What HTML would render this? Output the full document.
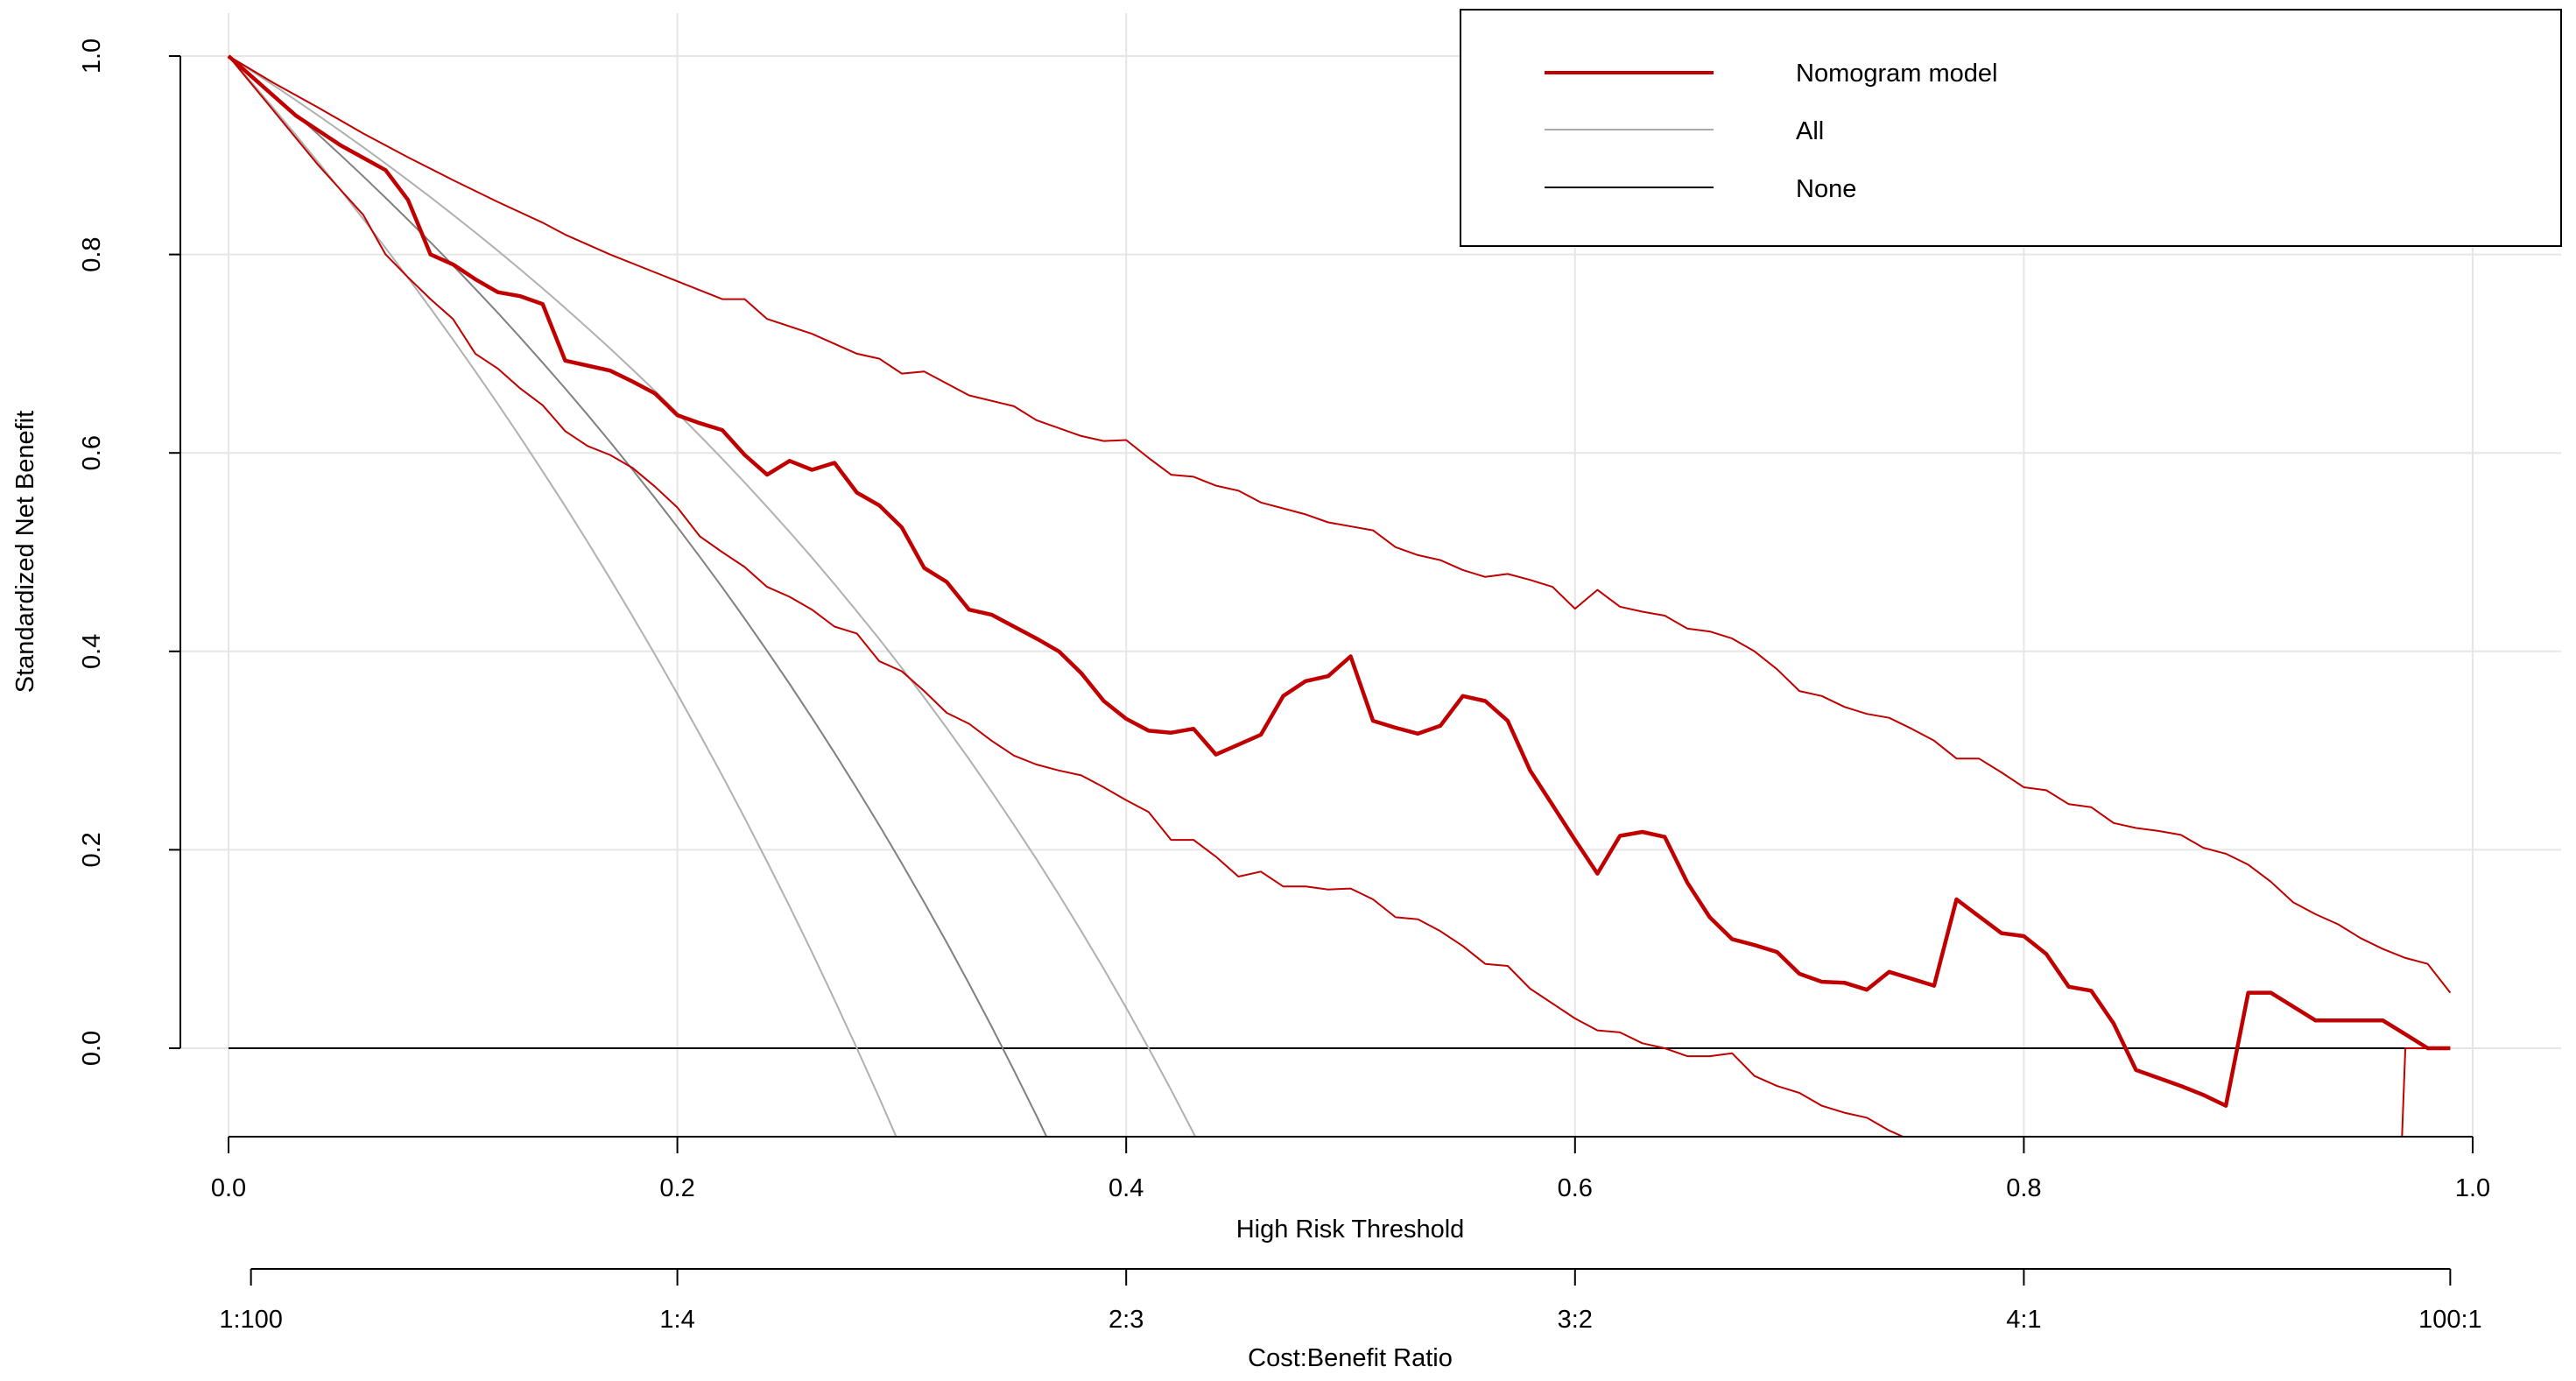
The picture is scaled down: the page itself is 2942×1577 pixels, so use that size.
<!DOCTYPE html>
<html><head><meta charset="utf-8">
<style>
html,body{margin:0;padding:0;background:#fff;overflow:hidden;width:2942px;height:1577px;}
svg{display:block;font-family:"Liberation Sans",Arial,sans-serif;}
</style></head>
<body>
<svg id="chart" width="2942" height="1577" viewBox="0 0 2942 1577" xmlns="http://www.w3.org/2000/svg">
<defs><clipPath id="plotclip"><rect x="206" y="0" width="2720" height="1298"/></clipPath></defs>
<g id="grid"></g>
<g id="series" clip-path="url(#plotclip)"></g>
<g id="axes"></g>
<g id="legend">
  <rect x="1668" y="11" width="1257" height="270" fill="#fff" stroke="#000" stroke-width="2"/>
  <line x1="1764" y1="83" x2="1957" y2="83" stroke="#c00000" stroke-width="4"/>
  <text x="2051" y="93" font-size="29">Nomogram model</text>
  <line x1="1764" y1="148" x2="1957" y2="148" stroke="#aaaaaa" stroke-width="2"/>
  <text x="2051" y="159" font-size="29">All</text>
  <line x1="1764" y1="214" x2="1957" y2="214" stroke="#000" stroke-width="2"/>
  <text x="2051" y="225" font-size="29">None</text>
</g>
</svg>
<script>
const xTicks = [0.0, 0.2, 0.4, 0.6, 0.8, 1.0];
const xTickLabels = ["0.0","0.2","0.4","0.6","0.8","1.0"];
const yTicks = [0.0, 0.2, 0.4, 0.6, 0.8, 1.0];
const yTickLabels = ["0.0","0.2","0.4","0.6","0.8","1.0"];
const costTicks = [0.01, 0.2, 0.4, 0.6, 0.8, 0.99];
const costTickLabels = ["1:100","1:4","2:3","3:2","4:1","100:1"];
const allPrevalence = [0.345, 0.28, 0.41];

const modelX = [0,0.03,0.05,0.07,0.08,0.09,0.10,0.11,0.12,0.13,0.14,0.15,0.16,0.17,0.18,0.19,0.20,0.21,0.22,0.23,0.24,0.25,0.26,0.27,0.28,0.29,0.30,0.31,0.32,0.33,0.34,0.35,0.36,0.37,0.38,0.39,0.40,0.41,0.42,0.43,0.44,0.45,0.46,0.47,0.48,0.49,0.50,0.51,0.52,0.53,0.54,0.55,0.56,0.57,0.58,0.59,0.60,0.61,0.62,0.63,0.64,0.65,0.66,0.67,0.68,0.69,0.70,0.71,0.72,0.73,0.74,0.75,0.76,0.77,0.78,0.79,0.80,0.81,0.82,0.83,0.84,0.85,0.86,0.87,0.88,0.89,0.90,0.91,0.92,0.93,0.94,0.95,0.96,0.97,0.98,0.99];
const modelY = [1.0,0.94,0.91,0.885,0.855,0.80,0.79,0.775,0.762,0.758,0.75,0.693,0.688,0.683,0.672,0.66,0.638,0.63,0.623,0.598,0.578,0.592,0.583,0.59,0.56,0.547,0.525,0.484,0.47,0.442,0.437,0.425,0.413,0.40,0.378,0.35,0.332,0.32,0.318,0.322,0.296,0.306,0.316,0.355,0.37,0.375,0.395,0.33,0.323,0.317,0.325,0.355,0.35,0.33,0.28,0.245,0.21,0.176,0.214,0.218,0.213,0.167,0.132,0.11,0.104,0.097,0.075,0.067,0.066,0.059,0.077,0.07,0.063,0.15,0.133,0.116,0.113,0.095,0.062,0.058,0.025,-0.022,-0.03,-0.038,-0.047,-0.058,0.056,0.056,0.042,0.028,0.028,0.028,0.028,0.014,0.0,0.0];

const upperX = [0,0.02,0.04,0.06,0.08,0.10,0.12,0.14,0.15,0.17,0.19,0.20,0.22,0.23,0.24,0.26,0.28,0.29,0.30,0.31,0.33,0.35,0.36,0.38,0.39,0.40,0.41,0.42,0.43,0.44,0.45,0.46,0.48,0.49,0.51,0.52,0.53,0.54,0.55,0.56,0.57,0.58,0.59,0.60,0.61,0.62,0.63,0.64,0.65,0.66,0.67,0.68,0.69,0.70,0.71,0.72,0.73,0.74,0.75,0.76,0.77,0.78,0.79,0.80,0.81,0.82,0.83,0.84,0.85,0.86,0.87,0.88,0.89,0.90,0.91,0.92,0.93,0.94,0.95,0.96,0.97,0.98,0.99];
const upperY = [1.0,0.973,0.948,0.922,0.898,0.875,0.853,0.832,0.82,0.80,0.782,0.773,0.755,0.755,0.735,0.72,0.70,0.695,0.68,0.682,0.658,0.647,0.633,0.617,0.612,0.613,0.595,0.578,0.576,0.567,0.562,0.55,0.538,0.53,0.522,0.505,0.497,0.492,0.482,0.475,0.478,0.472,0.465,0.443,0.462,0.445,0.44,0.436,0.423,0.42,0.413,0.40,0.382,0.36,0.355,0.344,0.337,0.333,0.322,0.31,0.292,0.292,0.278,0.263,0.26,0.246,0.243,0.227,0.222,0.219,0.215,0.202,0.196,0.185,0.168,0.147,0.135,0.125,0.111,0.1,0.091,0.085,0.056];

const lowerX = [0,0.02,0.04,0.06,0.07,0.08,0.09,0.10,0.11,0.12,0.13,0.14,0.15,0.16,0.17,0.18,0.19,0.20,0.21,0.22,0.23,0.24,0.25,0.26,0.27,0.28,0.29,0.30,0.31,0.32,0.33,0.34,0.35,0.36,0.37,0.38,0.39,0.40,0.41,0.42,0.43,0.44,0.45,0.46,0.47,0.48,0.49,0.50,0.51,0.52,0.53,0.54,0.55,0.56,0.57,0.58,0.59,0.60,0.61,0.62,0.63,0.64,0.65,0.66,0.67,0.68,0.69,0.70,0.71,0.72,0.73,0.74,0.75,0.76,0.96,0.97,0.98,0.99];
const lowerY = [1.0,0.945,0.89,0.84,0.80,0.777,0.755,0.735,0.70,0.685,0.665,0.648,0.622,0.607,0.598,0.585,0.566,0.545,0.516,0.50,0.485,0.465,0.455,0.442,0.425,0.418,0.39,0.38,0.36,0.338,0.327,0.31,0.295,0.286,0.28,0.275,0.263,0.25,0.238,0.21,0.21,0.193,0.173,0.178,0.163,0.163,0.16,0.161,0.15,0.132,0.13,0.118,0.103,0.085,0.083,0.06,0.045,0.03,0.018,0.016,0.005,0.0,-0.008,-0.008,-0.005,-0.028,-0.038,-0.045,-0.058,-0.065,-0.07,-0.083,-0.093,-0.12,-0.6,0.0,0.0,0.0];

const NS = "http://www.w3.org/2000/svg";
const X = v => 261 + v * 2563;
const Y = v => 1197 - v * 1133;
function mk(parent, tag, attrs) {
  const e = document.createElementNS(NS, tag);
  for (const k in attrs) e.setAttribute(k, attrs[k]);
  parent.appendChild(e);
  return e;
}
const grid = document.getElementById('grid');
const axes = document.getElementById('axes');
const series = document.getElementById('series');

xTicks.forEach(t => {
  const l = mk(grid, 'line', {x1:X(t), x2:X(t), y1:15, y2:1298, stroke:'#e6e6e6', 'stroke-width':2});
  
  
});
yTicks.forEach(t => {
  const l = mk(grid, 'line', {x1:206, x2:2925, y1:Y(t), y2:Y(t), stroke:'#e6e6e6', 'stroke-width':2});
  
  
});

const none = mk(series, 'line', {x1:X(0), x2:X(0.99), y1:Y(0), y2:Y(0), stroke:'#000', 'stroke-width':2});



allPrevalence.forEach((p, i) => {
  let d = '';
  for (let k = 0; k <= 99; k++) {
    const t = k / 100;
    const v = 1 - (1 - p) / p * t / (1 - t);
    d += (k ? 'L' : 'M') + X(t).toFixed(1) + ',' + Y(v).toFixed(1);
    if (v < -0.2) break;
  }
  const pa = mk(series, 'path', {d, fill:'none', stroke: i === 0 ? '#808080' : '#b0b0b0', 'stroke-width':2});
  
  
});

function drawLine(xs, ys, w, name) {
  const d = xs.map((x, i) => (i ? 'L' : 'M') + X(x).toFixed(1) + ',' + Y(ys[i]).toFixed(1)).join('');
  const pa = mk(series, 'path', {d, fill:'none', stroke:'#c00000', 'stroke-width':w, 'stroke-linejoin':'round'});
  
  
}
drawLine(upperX, upperY, 2, 'nomogram-upper-ci');
drawLine(lowerX, lowerY, 2, 'nomogram-lower-ci');
drawLine(modelX, modelY, 4.5, 'nomogram-curve');

const ya = mk(axes, 'line', {x1:206, x2:206, y1:Y(1), y2:Y(0), stroke:'#000', 'stroke-width':2});


yTicks.forEach((t, i) => {
  mk(axes, 'line', {x1:193, x2:206, y1:Y(t), y2:Y(t), stroke:'#000', 'stroke-width':2});
  const tx = mk(axes, 'text', {x:0, y:0, 'font-size':29, 'text-anchor':'middle', transform:`translate(114,${Y(t)}) rotate(-90)`});
  tx.textContent = yTickLabels[i];
  
  
});
const yt = mk(axes, 'text', {x:0, y:0, 'font-size':29, 'text-anchor':'middle', transform:'translate(38,630) rotate(-90)'});
yt.textContent = 'Standardized Net Benefit';



const xa = mk(axes, 'line', {x1:X(0), x2:X(1), y1:1298, y2:1298, stroke:'#000', 'stroke-width':2});


xTicks.forEach((t, i) => {
  mk(axes, 'line', {x1:X(t), x2:X(t), y1:1298, y2:1317, stroke:'#000', 'stroke-width':2});
  const tx = mk(axes, 'text', {x:X(t), y:1366, 'font-size':29, 'text-anchor':'middle'});
  tx.textContent = xTickLabels[i];
  
  
});
const xt = mk(axes, 'text', {x:1542, y:1413, 'font-size':29, 'text-anchor':'middle'});
xt.textContent = 'High Risk Threshold';



const ca = mk(axes, 'line', {x1:X(costTicks[0]), x2:X(costTicks[costTicks.length-1]), y1:1449, y2:1449, stroke:'#000', 'stroke-width':2});


costTicks.forEach((t, i) => {
  mk(axes, 'line', {x1:X(t), x2:X(t), y1:1449, y2:1468, stroke:'#000', 'stroke-width':2});
  const tx = mk(axes, 'text', {x:X(t), y:1516, 'font-size':29, 'text-anchor':'middle'});
  tx.textContent = costTickLabels[i];
  
  
});
const ct = mk(axes, 'text', {x:1542, y:1560, 'font-size':29, 'text-anchor':'middle'});
ct.textContent = 'Cost:Benefit Ratio';


</script>
</body></html>
